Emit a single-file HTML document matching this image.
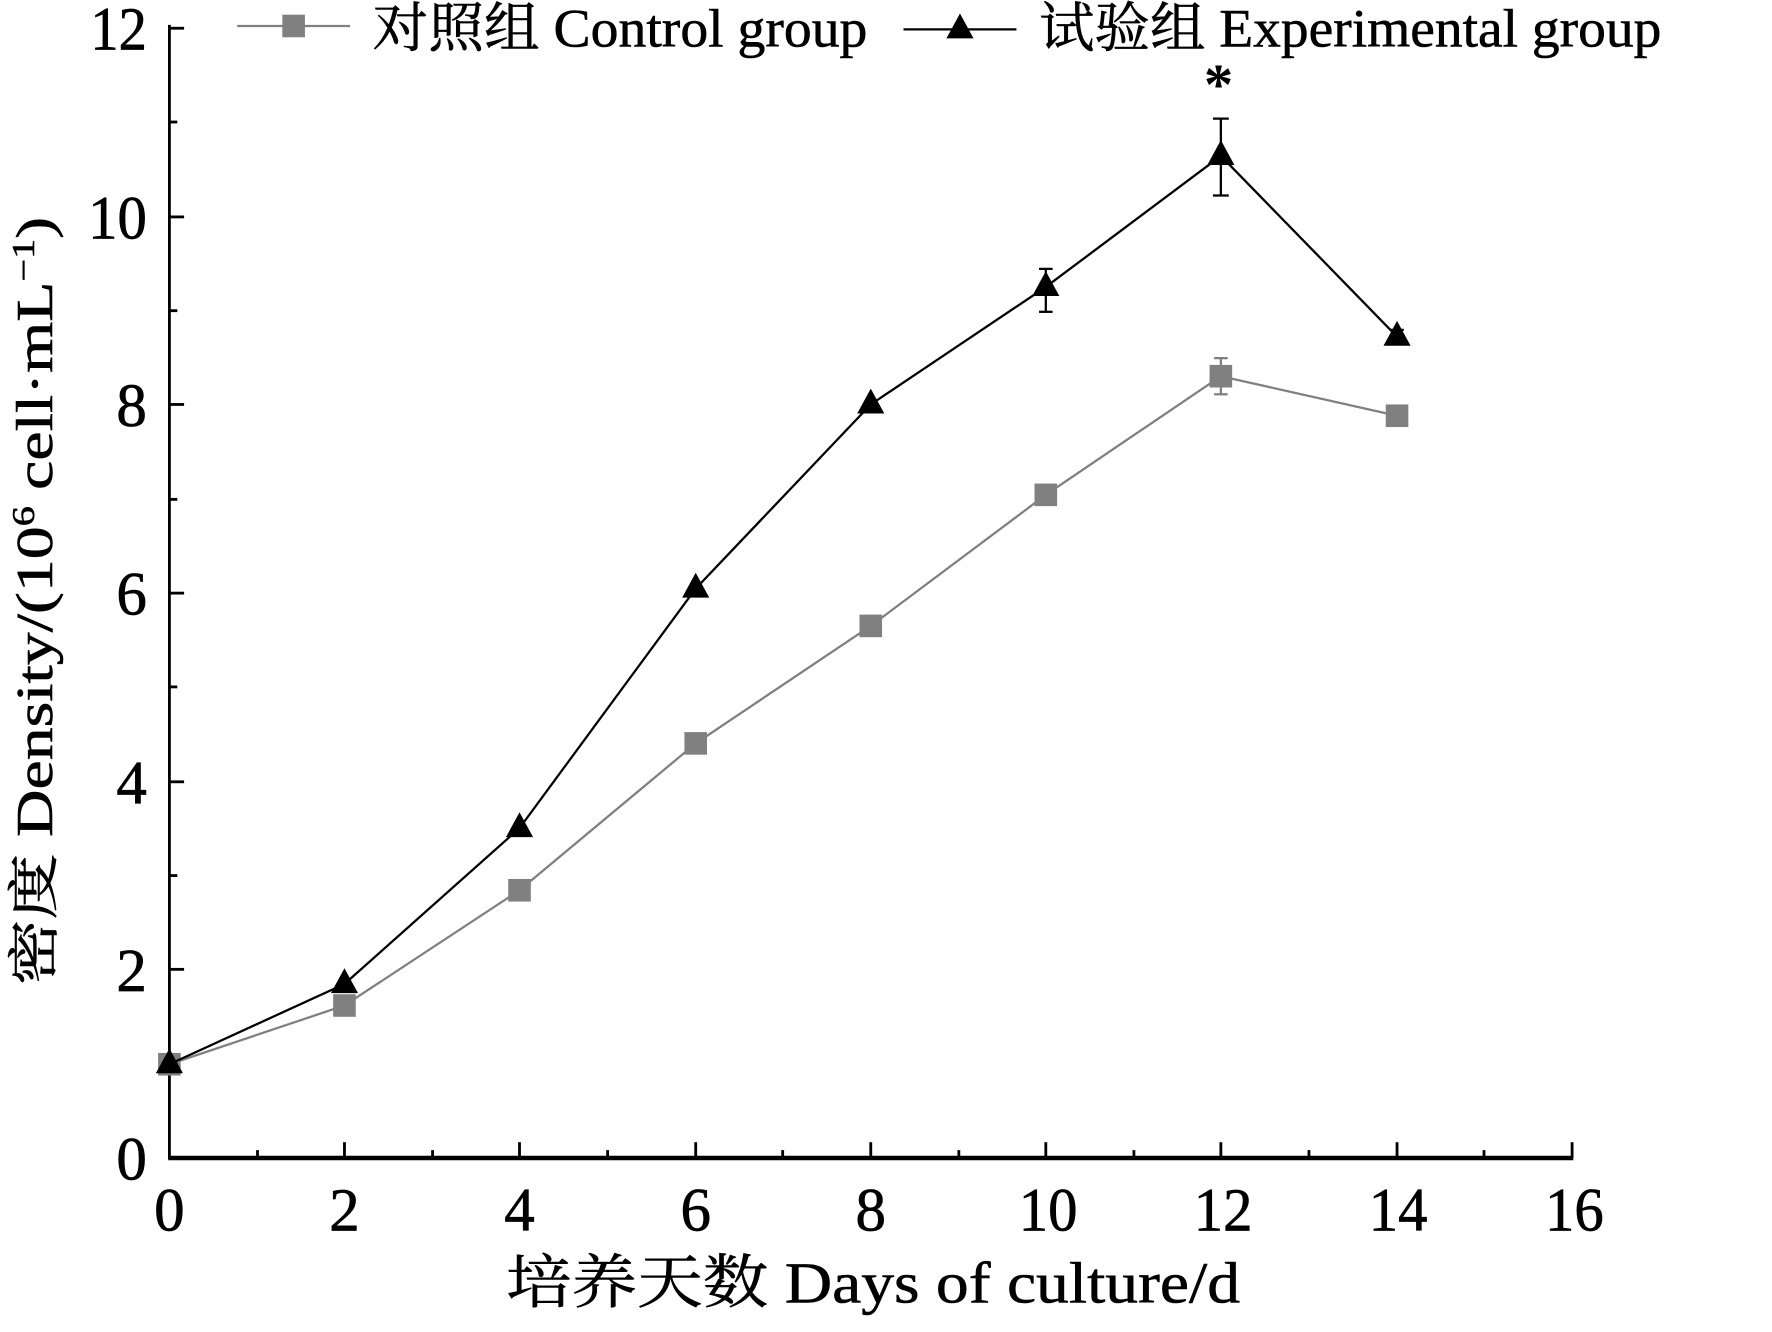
<!DOCTYPE html>
<html><head><meta charset="utf-8"><style>html,body{margin:0;padding:0;background:#fff}svg{display:block}</style></head><body>
<svg width="1772" height="1332" viewBox="0 0 1569 1179" preserveAspectRatio="none" xmlns="http://www.w3.org/2000/svg" font-family="'Liberation Serif','Noto Serif CJK SC',serif">
<rect width="1569" height="1179" fill="#fff"/>
<line x1="150" y1="22" x2="150" y2="1026" stroke="#000" stroke-width="2.5"/>
<line x1="149" y1="1025" x2="1393" y2="1025" stroke="#000" stroke-width="4"/>
<g stroke="#000" stroke-width="2.5">
<line x1="1392" y1="1025" x2="1392" y2="1011"/>
<line x1="150" y1="25" x2="163" y2="25"/><line x1="150" y1="108" x2="157" y2="108"/>
<line x1="150" y1="192" x2="163" y2="192"/><line x1="150" y1="275" x2="157" y2="275"/>
<line x1="150" y1="358" x2="163" y2="358"/><line x1="150" y1="442" x2="157" y2="442"/>
<line x1="150" y1="525" x2="163" y2="525"/><line x1="150" y1="608" x2="157" y2="608"/>
<line x1="150" y1="692" x2="163" y2="692"/><line x1="150" y1="775" x2="157" y2="775"/>
<line x1="150" y1="858" x2="163" y2="858"/><line x1="150" y1="942" x2="157" y2="942"/>
<line x1="228" y1="1025" x2="228" y2="1018"/><line x1="305" y1="1025" x2="305" y2="1011"/>
<line x1="383" y1="1025" x2="383" y2="1018"/><line x1="460" y1="1025" x2="460" y2="1011"/>
<line x1="538" y1="1025" x2="538" y2="1018"/><line x1="616" y1="1025" x2="616" y2="1011"/>
<line x1="693" y1="1025" x2="693" y2="1018"/><line x1="771" y1="1025" x2="771" y2="1011"/>
<line x1="849" y1="1025" x2="849" y2="1018"/><line x1="926" y1="1025" x2="926" y2="1011"/>
<line x1="1004" y1="1025" x2="1004" y2="1018"/><line x1="1081" y1="1025" x2="1081" y2="1011"/>
<line x1="1159" y1="1025" x2="1159" y2="1018"/><line x1="1237" y1="1025" x2="1237" y2="1011"/>
<line x1="1314" y1="1025" x2="1314" y2="1018"/>
</g>
<g font-size="54" text-anchor="end" stroke="#000" stroke-width="0.6" lengthAdjust="spacingAndGlyphs">
<text x="130" y="44" textLength="50" lengthAdjust="spacingAndGlyphs">12</text><text x="130" y="211" textLength="52" lengthAdjust="spacingAndGlyphs">10</text><text x="130" y="377">8</text>
<text x="130" y="544">6</text><text x="130" y="711">4</text><text x="130" y="877">2</text><text x="130" y="1044">0</text>
</g>
<g font-size="54" text-anchor="middle" stroke="#000" stroke-width="0.6">
<text x="150" y="1089">0</text><text x="305" y="1089">2</text><text x="460" y="1089">4</text><text x="616" y="1089">6</text>
<text x="771" y="1089">8</text><text x="928" y="1089" textLength="52" lengthAdjust="spacingAndGlyphs">10</text><text x="1083" y="1089" textLength="52" lengthAdjust="spacingAndGlyphs">12</text><text x="1238" y="1089" textLength="52" lengthAdjust="spacingAndGlyphs">14</text><text x="1394" y="1089" textLength="52" lengthAdjust="spacingAndGlyphs">16</text>
</g>
<text x="773" y="1153" font-size="52" text-anchor="middle" textLength="650" lengthAdjust="spacingAndGlyphs" stroke="#000" stroke-width="0.5">培养天数 Days of culture/d</text>
<text transform="translate(46,532) rotate(-90)" font-size="46" text-anchor="middle" textLength="680" lengthAdjust="spacingAndGlyphs" stroke="#000" stroke-width="0.5">密度 Density/(10<tspan font-size="28" dy="-16">6</tspan><tspan dy="16"> cell·mL</tspan><tspan font-size="28" dy="-16">−1</tspan><tspan dy="16">)</tspan></text>
<polyline fill="none" stroke="#808080" stroke-width="2" points="150,942 305,890 460,788 616,658 771,554 926,438 1081,333 1237,368"/>
<g stroke="#808080" stroke-width="2"><line x1="1081" y1="317" x2="1081" y2="349"/><line x1="1075" y1="317" x2="1087" y2="317"/><line x1="1075" y1="349" x2="1087" y2="349"/></g>
<g fill="#808080">
<rect x="140" y="932" width="20" height="20"/><rect x="295" y="880" width="20" height="20"/><rect x="450" y="778" width="20" height="20"/>
<rect x="606" y="648" width="20" height="20"/><rect x="761" y="544" width="20" height="20"/><rect x="916" y="428" width="20" height="20"/>
<rect x="1071" y="323" width="20" height="20"/><rect x="1227" y="358" width="20" height="20"/>
</g>
<polyline fill="none" stroke="#000" stroke-width="2" points="150,942 305,871 460,733 616,521 771,358 926,254 1081,138 1237,298"/>
<g stroke="#000" stroke-width="2">
<line x1="926" y1="238" x2="926" y2="276"/><line x1="920" y1="238" x2="932" y2="238"/><line x1="920" y1="276" x2="932" y2="276"/>
<line x1="1081" y1="105" x2="1081" y2="173"/><line x1="1074" y1="105" x2="1088" y2="105"/><line x1="1074" y1="173" x2="1088" y2="173"/>
<line x1="1231" y1="292" x2="1243" y2="292"/>
</g>
<g fill="#000">
<polygon points="150,928 138,950 162,950"/><polygon points="305,857 293,879 317,879"/><polygon points="460,719 448,741 472,741"/>
<polygon points="616,507 604,529 628,529"/><polygon points="771,344 759,366 783,366"/><polygon points="926,240 914,262 938,262"/>
<polygon points="1081,124 1069,146 1093,146"/><polygon points="1237,284 1225,306 1249,306"/>
</g>
<text x="1079" y="92" font-size="52" font-weight="bold" text-anchor="middle">*</text>
<line x1="210" y1="23" x2="310" y2="23" stroke="#808080" stroke-width="2"/>
<rect x="250" y="13" width="20" height="20" fill="#808080"/>
<text x="330" y="41" font-size="48" textLength="438" lengthAdjust="spacingAndGlyphs" stroke="#000" stroke-width="0.5">对照组 Control group</text>
<line x1="800" y1="26" x2="900" y2="26" stroke="#000" stroke-width="2"/>
<polygon points="850,12 838,34 862,34" fill="#000"/>
<text x="920" y="41" font-size="48" textLength="551" lengthAdjust="spacingAndGlyphs" stroke="#000" stroke-width="0.5">试验组 Experimental group</text>
</svg>
</body></html>
